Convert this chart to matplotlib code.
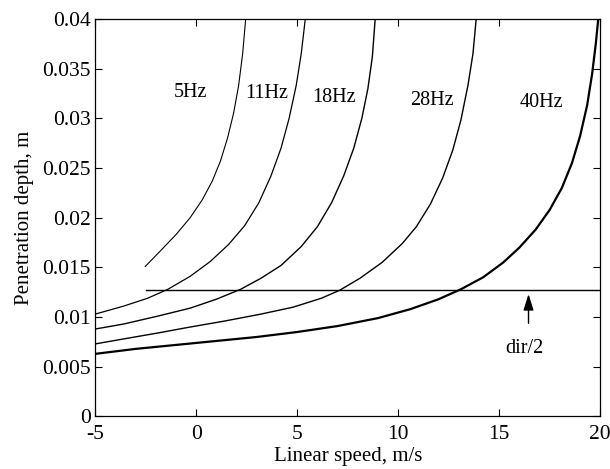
import numpy as np
import matplotlib
matplotlib.use('Agg')
from matplotlib import pyplot as plt

plt.rcParams['font.family'] = ['Liberation Serif', 'DejaVu Serif']
plt.rcParams['axes.unicode_minus'] = False

# curve data (linear speed m/s, penetration depth m)
x_5 = [-2.52, -1.8, -1.0, -0.3, 0.3, 0.8, 1.2, 1.55, 1.85, 2.1, 2.3, 2.45]
y_5 = [0.0151, 0.0166, 0.0183, 0.0200, 0.0218, 0.0237, 0.0257, 0.0280, 0.0305, 0.0333, 0.0365, 0.0400]

x_11 = [-5.0, -3.6, -2.4, -1.4, -0.3, 0.7, 1.6, 2.4, 3.1, 3.7, 4.2, 4.6, 4.95, 5.2, 5.4]
y_11 = [0.0103, 0.0111, 0.0119, 0.0128, 0.0141, 0.0156, 0.0173, 0.0192, 0.0215, 0.0242, 0.0270,
        0.0300, 0.0333, 0.0365, 0.0400]

x_18 = [-5.0, -3.6, -1.9, -0.3, 1.0, 2.2, 3.2, 4.2, 5.2, 6.0, 6.7, 7.3, 7.8, 8.2, 8.5, 8.72, 8.86]
y_18 = [0.0088, 0.0093, 0.0101, 0.0109, 0.0118, 0.0128, 0.0139, 0.0152, 0.0171, 0.0191, 0.0215,
        0.0242, 0.0270, 0.0300, 0.0330, 0.0362, 0.0400]

x_28 = [-5.0, -3.6, -1.9, -0.3, 1.4, 3.2, 4.8, 6.2, 7.1, 8.1, 9.2, 10.2, 10.9, 11.6, 12.2, 12.7,
        13.1, 13.45, 13.7, 13.86]
y_28 = [0.0073, 0.0078, 0.0084, 0.0090, 0.0096, 0.0103, 0.0110, 0.0119, 0.0127, 0.0139, 0.0155,
        0.0174, 0.0191, 0.0214, 0.0240, 0.0268, 0.0298, 0.0333, 0.0365, 0.0400]

x_40 = [-5.0, -3.0, -1.0, 1.0, 3.0, 5.0, 7.0, 9.0, 10.6, 12.0, 13.1, 14.2, 15.2, 16.0, 16.8, 17.5,
        18.1, 18.6, 19.0, 19.35, 19.6, 19.78, 19.9]
y_40 = [0.0063, 0.0068, 0.0072, 0.0076, 0.0080, 0.0085, 0.0091, 0.0099, 0.0108, 0.0118, 0.0128,
        0.0140, 0.0155, 0.0170, 0.0188, 0.0208, 0.0230, 0.0255, 0.0282, 0.0313, 0.0345, 0.0375, 0.0400]

dir_half = 0.0127
dir_x = [-2.5, 20]

labels = ['5Hz', '11Hz', '18Hz', '28Hz', '40Hz']
label_x = [-0.29, 3.5, 6.8, 11.67, 17.1]
label_y = [0.0326, 0.0325, 0.0321, 0.0318, 0.0316]

fig = plt.figure(figsize=(6.1, 4.69), dpi=100)
ax = fig.add_axes([0.156, 0.112, 0.828, 0.8475])

ax.plot(x_5, y_5, c='k', lw=0.8)
ax.plot(x_11, y_11, c='k', lw=0.9)
ax.plot(x_18, y_18, c='k', lw=1.0)
ax.plot(x_28, y_28, c='k', lw=1.0)
ax.plot(x_40, y_40, c='k', lw=1.6)
ax.plot(dir_x, [dir_half, dir_half], c='k', lw=1.0)

for lab, lx, ly in zip(labels, label_x, label_y):
    ax.text(lx, ly, lab, ha='center', va='center', fontsize=14.5)

ax.annotate('', xy=(16.45, 0.0126), xytext=(16.45, 0.0091),
            arrowprops=dict(arrowstyle='-|>,head_length=0.7,head_width=0.22',
                            color='k', lw=1.0, mutation_scale=14))
ax.text(16.25, 0.0068, 'dir/2', ha='center', va='center', fontsize=14.5)

ax.set_xlim([-5, 20])
ax.set_ylim([0, 0.04])
ax.set_xticks([-5, 0, 5, 10, 15, 20])
ax.set_yticks([0, 0.005, 0.01, 0.015, 0.02, 0.025, 0.03, 0.035, 0.04])
ax.set_yticklabels(['0', '0.005', '0.01', '0.015', '0.02', '0.025', '0.03', '0.035', '0.04'])
ax.tick_params(direction='in', top=True, right=True, length=5, width=0.8, labelsize=15.5)
ax.tick_params(axis='x', pad=6)
ax.tick_params(axis='y', pad=3)
for s in ax.spines.values():
    s.set_linewidth(0.9)

ax.set_xlabel('Linear speed, m/s', fontsize=15, labelpad=2)
ax.set_ylabel('Penetration depth, m', fontsize=15, labelpad=6)

plt.savefig('out.png', dpi=100)
